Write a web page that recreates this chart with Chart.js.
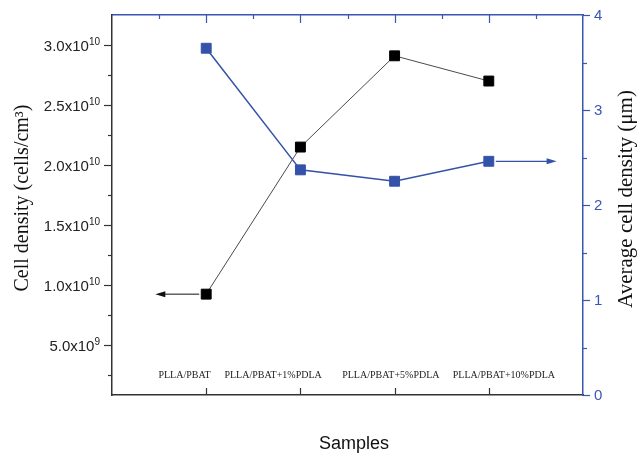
<!DOCTYPE html>
<html><head><meta charset="utf-8">
<script src="https://cdn.jsdelivr.net/npm/chart.js@4/dist/chart.umd.min.js"></script>
<style>html,body{margin:0;padding:0;background:#fff}#wrap{width:638px;height:456px}</style>
</head><body><div id="wrap"><canvas id="c" width="638" height="456"></canvas></div>
<script>
// ---- data ----
const categories = ['PLLA/PBAT', 'PLLA/PBAT+1%PDLA', 'PLLA/PBAT+5%PDLA', 'PLLA/PBAT+10%PDLA'];
const cellDensity = [9.25e9, 2.15e10, 2.91e10, 2.70e10];      // cells/cm3, left axis
const avgCellSize = [3.65, 2.37, 2.25, 2.46];                   // µm, right axis
const leftTickValues = [5e9, 1e10, 1.5e10, 2e10, 2.5e10, 3e10];
const rightTickValues = [0, 1, 2, 3, 4];

// ---- styling ----
const BLUE = '#3352a8';
const AXIS_BLUE = '#3a56b2';
const DARK = '#333333';
const labelAnchors = [-0.23, 0.71, 1.96, 3.16]; // where category texts sit (x units)

const pointsOf = arr => arr.map((v, i) => ({x: i, y: v}));

const deco = {
  id: 'deco',
  afterDraw(chart) {
    const ctx = chart.ctx, ca = chart.chartArea;
    const sx = chart.scales.x, sy = chart.scales.y, sy1 = chart.scales.y1;
    const line = (x1, y1, x2, y2) => { ctx.beginPath(); ctx.moveTo(x1, y1); ctx.lineTo(x2, y2); ctx.stroke(); };
    ctx.save();
    // left ticks (major + minor)
    ctx.strokeStyle = DARK; ctx.lineWidth = 1.2;
    for (let k = 1; k <= 12; k++) {
      const v = k * 2.5e9;
      const py = Math.round(sy.getPixelForValue(v)) + 0.5;
      const len = (k % 2 === 0) ? 8 : 4;
      line(ca.left - len, py, ca.left, py);
    }
    // bottom ticks (inward)
    categories.forEach((c, i) => {
      const px = Math.round(sx.getPixelForValue(i)) + 0.5;
      line(px, ca.bottom, px, ca.bottom - 7);
    });
    // right ticks
    ctx.strokeStyle = AXIS_BLUE;
    for (let k = 0; k <= 8; k++) {
      const v = k * 0.5;
      const py = Math.round(sy1.getPixelForValue(v)) + 0.5;
      const len = (k % 2 === 0) ? 7 : 4;
      line(ca.right, py, ca.right + len, py);
    }
    // top ticks (inward)
    for (let k = -1; k <= 7; k++) {
      const v = k * 0.5;
      const px = Math.round(sx.getPixelForValue(v)) + 0.5;
      const len = (k % 2 === 0) ? 8 : 4;
      line(px, ca.top, px, ca.top + len);
    }
    // left tick labels with superscripts
    ctx.fillStyle = '#222';
    ctx.textBaseline = 'alphabetic';
    leftTickValues.forEach(v => {
      const e = Math.floor(Math.log10(v) + 1e-9);
      const m = (v / Math.pow(10, e)).toFixed(1);
      const py = sy.getPixelForValue(v);
      ctx.font = '10px "Liberation Sans", Arial, sans-serif';
      ctx.textAlign = 'right';
      const sup = String(e);
      const sw = ctx.measureText(sup).width;
      ctx.fillText(sup, ca.left - 12, py);
      ctx.font = '15px "Liberation Sans", Arial, sans-serif';
      ctx.fillText(m + 'x10', ca.left - 12 - sw, py + 5.5);
    });
    // right tick labels
    ctx.fillStyle = AXIS_BLUE;
    ctx.font = '15px "Liberation Sans", Arial, sans-serif';
    ctx.textAlign = 'left'; ctx.textBaseline = 'middle';
    rightTickValues.forEach(v => {
      ctx.fillText(String(v), ca.right + 11, sy1.getPixelForValue(v) + 1);
    });
    // category labels inside the plot
    ctx.fillStyle = '#222';
    ctx.font = '10px "Liberation Serif", "Times New Roman", serif';
    ctx.textAlign = 'center'; ctx.textBaseline = 'middle';
    categories.forEach((c, i) => {
      ctx.fillText(c, sx.getPixelForValue(labelAnchors[i]), ca.bottom - 20);
    });
    // arrows
    const arrow = (xFrom, xTo, py, color, lw) => {
      ctx.strokeStyle = color; ctx.fillStyle = color; ctx.lineWidth = lw;
      const dir = Math.sign(xTo - xFrom);
      line(xFrom, py, xTo - dir * 8, py);
      ctx.beginPath();
      ctx.moveTo(xTo, py);
      ctx.lineTo(xTo - dir * 10, py - 3);
      ctx.lineTo(xTo - dir * 10, py + 3);
      ctx.closePath(); ctx.fill();
    };
    const b0y = sy.getPixelForValue(cellDensity[0]);
    arrow(sx.getPixelForValue(0) - 7, sx.getPixelForValue(-0.54), b0y, '#111', 1);
    const n = avgCellSize.length - 1;
    const b3y = sy1.getPixelForValue(avgCellSize[n]);
    arrow(sx.getPixelForValue(n) + 7, sx.getPixelForValue(n + 0.72), b3y, BLUE, 1.2);
    // axis titles
    ctx.fillStyle = '#111';
    ctx.font = '20px "Liberation Serif", "Times New Roman", serif';
    ctx.textAlign = 'center'; ctx.textBaseline = 'middle';
    ctx.save(); ctx.translate(23, 198); ctx.rotate(-Math.PI / 2);
    ctx.fillText('Cell density (cells/cm³)', 0, 0); ctx.restore();
    ctx.font = '21px "Liberation Serif", "Times New Roman", serif';
    ctx.save(); ctx.translate(626, 199); ctx.rotate(-Math.PI / 2);
    ctx.fillText('Average cell density (μm)', 0, 0); ctx.restore();
    ctx.font = '18px "Liberation Sans", Arial, sans-serif';
    ctx.textBaseline = 'alphabetic';
    ctx.fillText('Samples', 354, 449);
    ctx.restore();
  }
};

new Chart(document.getElementById('c'), {
  type: 'line',
  data: {
    datasets: [
      {
        label: 'Average cell size',
        data: pointsOf(avgCellSize),
        xAxisID: 'x', yAxisID: 'y1',
        borderColor: BLUE, backgroundColor: BLUE, borderWidth: 1.5,
        pointStyle: 'rect', pointRadius: 7, pointBorderWidth: 1,
        pointBorderColor: BLUE, pointBackgroundColor: BLUE,
        tension: 0, order: 1
      },
      {
        label: 'Cell density',
        data: pointsOf(cellDensity),
        xAxisID: 'x', yAxisID: 'y',
        borderColor: '#4a4a4a', backgroundColor: '#000', borderWidth: 1,
        pointStyle: 'rect', pointRadius: 7, pointBorderWidth: 1,
        pointBorderColor: '#000', pointBackgroundColor: '#000',
        tension: 0, order: 2
      }
    ]
  },
  options: {
    responsive: false, animation: false, devicePixelRatio: 1,
    layout: {padding: 0},
    plugins: {legend: {display: false}, tooltip: {enabled: false}, title: {display: false}},
    scales: {
      x: {type: 'linear', position: 'bottom', min: -1, max: 4,
          ticks: {display: false}, grid: {display: false},
          border: {display: true, color: DARK, width: 1.5},
          afterFit(s) { s.height = 61; }},
      xTop: {type: 'linear', position: 'top', min: -1, max: 4,
          ticks: {display: false}, grid: {display: false},
          border: {display: true, color: AXIS_BLUE, width: 1.5},
          afterFit(s) { s.height = 15; }},
      y: {type: 'linear', position: 'left', min: 8.5e8, max: 3.25e10,
          ticks: {display: false}, grid: {display: false},
          border: {display: true, color: DARK, width: 1.5},
          afterFit(s) { s.width = 112; }},
      y1: {type: 'linear', position: 'right', min: 0, max: 4,
          ticks: {display: false}, grid: {display: false},
          border: {display: true, color: AXIS_BLUE, width: 1.5},
          afterFit(s) { s.width = 55; }}
    }
  },
  plugins: [deco]
});
</script>
</body></html>
